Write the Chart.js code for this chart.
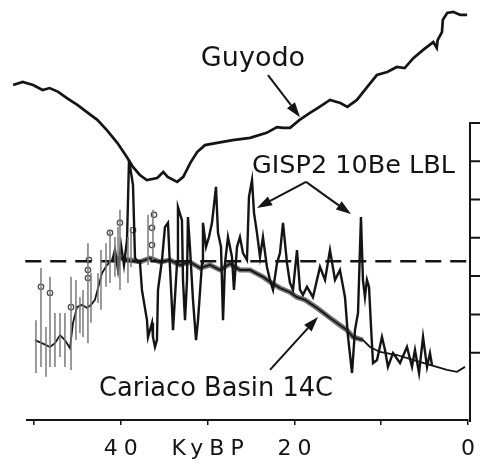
<!DOCTYPE html>
<html>
<head>
<meta charset="utf-8">
<script src="https://cdn.jsdelivr.net/npm/chart.js@4.4.0/dist/chart.umd.min.js"></script>
<style>
  body { margin: 0; background: #fff; }
</style>
</head>
<body>
<canvas id="chart" width="481" height="466"></canvas>
<script>
// ages in kyr BP, values in units of the right-hand axis ticks
const guyodoAge = [52.4, 51.3, 50.1, 49.0, 48.2, 47.2, 46.2, 45.0, 43.9, 42.7, 41.6, 40.4, 39.3, 38.6, 37.8, 37.0, 35.8, 35.1, 34.6, 33.5,
  32.8, 32.0, 31.2, 30.3, 28.9, 27.1, 25.1, 23.2, 22.0, 21.3, 20.5, 19.4, 18.2, 17.1, 15.9, 14.7, 13.9, 12.8, 11.6, 10.5,
  9.3, 8.2, 7.3, 6.3, 5.2, 4.0, 3.6, 3.5, 3.0, 2.9, 2.4, 1.7, 0.9, 0.1];
const guyodoVal = [7.99, 8.07, 7.99, 7.86, 7.91, 7.81, 7.65, 7.47, 7.28, 7.08, 6.81, 6.48, 6.11, 5.85, 5.64, 5.51, 5.56, 5.72, 5.59, 5.46,
  5.59, 5.95, 6.24, 6.42, 6.48, 6.55, 6.61, 6.74, 6.89, 6.87, 6.87, 7.08, 7.26, 7.42, 7.60, 7.52, 7.42, 7.60, 7.94, 8.25,
  8.33, 8.46, 8.43, 8.69, 8.90, 9.11, 8.96, 9.16, 9.37, 9.69, 9.87, 9.90, 9.82, 9.82];

const beAge = [41.01, 40.67, 40.32, 39.97, 39.63, 39.28, 39.05, 38.59, 38.36,
  38.01, 37.79, 37.56, 36.98, 36.86, 36.40, 36.29, 36.06, 35.83, 35.71,
  35.25, 34.91, 34.56, 34.33, 34.10, 33.98, 33.52, 33.41, 32.95, 32.83,
  32.60, 32.37, 32.26, 32.03, 31.68, 31.33, 31.10, 30.64, 30.53, 30.18,
  29.84, 29.49, 29.03, 28.80, 28.45, 28.22, 27.99, 27.65, 27.19, 26.96,
  26.61, 26.27, 25.92, 25.46, 25.23, 24.88, 24.65, 24.31, 23.96, 23.62, 23.16, 22.81, 22.46,
  22.00, 21.66, 21.31, 20.85, 20.51, 20.16, 19.70, 19.35, 19.01, 18.55,
  17.86, 17.05, 16.47, 15.90, 15.32, 14.75, 14.17, 13.82, 13.36, 13.02,
  12.67, 12.33, 12.10, 11.87, 11.64, 11.40, 11.17, 10.94, 10.48, 9.91,
  9.56, 9.22, 8.64, 7.83, 7.03, 6.45, 6.11, 5.64, 5.18, 4.72, 4.38, 4.15];
const beVal = [3.37, 3.68, 3.16, 3.81, 3.29, 3.94, 6.03, 5.38, 3.47,
  3.37, 3.37, 2.64, 1.85, 1.41, 1.78, 1.41, 1.15, 1.33, 2.64,
  3.42, 4.28, 4.39, 3.24, 2.19, 1.59, 3.34, 4.80, 4.46, 2.90,
  1.85, 2.90, 4.54, 3.76, 2.38, 1.33, 1.85, 3.34, 4.39, 3.76,
  4.02, 4.39, 5.33, 4.13, 3.76, 1.85, 3.34, 4.02, 3.50, 2.64,
  3.76, 4.02, 3.60, 3.42, 5.07, 5.51, 4.65, 4.13, 3.50, 4.02, 3.24, 2.90, 2.64,
  3.34, 3.60, 4.39, 3.34, 2.82, 2.64, 3.68, 2.64, 2.51, 2.72,
  2.45, 3.24, 2.90, 3.68, 2.90, 3.16, 2.45, 1.41, 0.47, 1.59,
  2.04, 4.54, 2.90, 2.45, 2.90, 2.72, 1.67, 0.73, 0.81, 1.41,
  1.07, 0.63, 0.99, 0.73, 1.15, 0.63, 1.07, 0.47, 1.41, 0.63, 0.99, 0.68];

const cariacoAge = [49.88, 49.08, 48.15, 47.58, 47.00, 46.43, 45.85, 45.50, 45.04, 44.47,
  43.89, 43.43, 42.97, 42.62, 42.16, 41.59, 41.01, 40.09, 38.94, 37.79,
  36.63, 35.48, 34.33, 33.18, 32.03, 30.87, 29.72, 28.57, 27.42, 26.27,
  25.11, 23.62, 22.81, 21.66, 20.51, 19.70, 18.78, 17.40, 16.47, 15.90,
  14.75, 13.94, 13.25, 12.10, 11.29, 10.14, 8.18, 6.34, 4.38, 2.42, 1.27, 0.35];
const cariacoVal = [1.33, 1.25, 1.15, 1.25, 1.46, 1.33, 1.12, 1.78, 2.19, 2.25,
  2.17, 2.25, 2.38, 2.69, 3.08, 3.29, 3.42, 3.47, 3.42, 3.37,
  3.47, 3.37, 3.42, 3.29, 3.37, 3.21, 3.29, 3.16, 3.32, 3.16,
  3.16, 2.98, 2.85, 2.69, 2.58, 2.45, 2.38, 2.17, 2.01, 1.91,
  1.72, 1.59, 1.41, 1.33, 1.15, 1.02, 0.94, 0.81, 0.68, 0.55, 0.50, 0.63];

const errAge = [49.77, 49.19, 48.61, 48.15, 47.58, 47.00, 46.43, 45.73, 45.16, 44.70, 44.35, 43.78,
  43.43, 42.62, 42.28, 41.70, 41.24, 40.67, 40.32, 40.09, 39.17, 38.82, 36.86, 36.29];
const errHigh = [1.85, 3.21, 1.67, 2.98, 2.04, 2.04, 2.04, 2.98, 2.90, 2.45, 2.64, 3.86,
  3.08, 3.08, 3.68, 3.86, 4.20, 4.02, 4.28, 4.73, 4.02, 4.28, 4.60, 4.73];
const errLow = [0.47, 0.63, 0.37, 0.63, 0.63, 0.89, 0.63, 0.55, 1.33, 1.51, 1.41, 1.25,
  1.78, 2.30, 2.12, 2.72, 2.82, 2.98, 3.08, 2.64, 2.82, 3.24, 3.29, 3.42];

const dotAge = [49.19, 48.15, 45.73, 43.78, 43.78, 43.66, 41.24, 40.09, 38.59, 36.40, 36.17, 36.40];
const dotVal = [2.72, 2.56, 2.19, 3.16, 2.95, 3.42, 4.13, 4.39, 4.20, 4.26, 4.60, 3.81];

const refLevel = 3.39;
const refSpan = [51.0, 0];
const bandRange = [12, 41.5];

const xTicks = [0, 10, 20, 30, 40, 50];
const xTickLabels = ['0', '', '20', 'KyBP', '40', ''];
const rightTicks = [1, 2, 3, 4, 5, 6];
const rightTop = 7;

// text and arrows, placed in data coordinates
const notes = [
  { text: 'Guyodo', x: 24.77, y: 8.49, size: 27 },
  { text: 'GISP2 10Be LBL', x: 13.19, y: 5.69, size: 25.5 },
  { text: 'Cariaco Basin 14C', x: 29.03, y: -0.13, size: 25.7 }
];
const arrows = [
  { from: [23.04, 8.25], to: [19.35, 7.15] },
  { from: [18.66, 5.46], to: [24.31, 4.78] },
  { from: [18.66, 5.46], to: [13.48, 4.62] },
  { from: [22.81, 0.55], to: [17.28, 1.93] }
];

function pts(xs, ys) {
  return xs.map((x, i) => ({ x: x, y: ys[i] }));
}

const errPts = [];
errAge.forEach((a, i) => {
  errPts.push({ x: a, y: errLow[i] }, { x: a, y: errHigh[i] }, { x: a, y: null });
});

// scatter envelope behind the Cariaco curve
const bandPts = pts(cariacoAge, cariacoVal).filter(p => p.x >= bandRange[0] && p.x <= bandRange[1]);

const INK = '#141414';

const spacing = {
  id: 'spacing',
  beforeDraw(chart) {
    chart.ctx.letterSpacing = '6px';
  }
};

const extras = {
  id: 'extras',
  afterDraw(chart) {
    const ctx = chart.ctx;
    const xs = chart.scales.x;
    const ys = chart.scales.y;
    ctx.save();
    ctx.letterSpacing = '0px';
    ctx.strokeStyle = INK;
    ctx.fillStyle = INK;
    ctx.lineCap = 'butt';

    // right-hand axis
    const ax = xs.getPixelForValue(0) + 2;
    ctx.lineWidth = 2;
    ctx.beginPath();
    ctx.moveTo(ax + 10, ys.getPixelForValue(rightTop));
    ctx.lineTo(ax, ys.getPixelForValue(rightTop));
    ctx.lineTo(ax, chart.chartArea.bottom + 2);
    rightTicks.forEach(v => {
      const y = ys.getPixelForValue(v);
      ctx.moveTo(ax, y);
      ctx.lineTo(ax + 10, y);
    });
    ctx.stroke();

    // labels
    ctx.textAlign = 'center';
    ctx.textBaseline = 'alphabetic';
    notes.forEach(n => {
      ctx.font = n.size + 'px "DejaVu Sans"';
      ctx.fillText(n.text, xs.getPixelForValue(n.x), ys.getPixelForValue(n.y));
    });

    // arrows
    ctx.lineWidth = 2;
    arrows.forEach(a => {
      const x1 = xs.getPixelForValue(a.from[0]), y1 = ys.getPixelForValue(a.from[1]);
      const x2 = xs.getPixelForValue(a.to[0]), y2 = ys.getPixelForValue(a.to[1]);
      const ang = Math.atan2(y2 - y1, x2 - x1);
      const len = 15, half = 5;
      const bx = x2 - len * Math.cos(ang), by = y2 - len * Math.sin(ang);
      ctx.beginPath();
      ctx.moveTo(x1, y1);
      ctx.lineTo(bx, by);
      ctx.stroke();
      ctx.beginPath();
      ctx.moveTo(x2, y2);
      ctx.lineTo(bx + half * Math.sin(ang), by - half * Math.cos(ang));
      ctx.lineTo(bx - half * Math.sin(ang), by + half * Math.cos(ang));
      ctx.closePath();
      ctx.fill();
    });
    ctx.restore();
  }
};

new Chart(document.getElementById('chart'), {
  type: 'scatter',
  data: {
    datasets: [
      {
        data: errPts, showLine: true, spanGaps: false,
        borderColor: '#7a7a7a', borderWidth: 1.5, pointRadius: 0, clip: false
      },
      {
        data: bandPts, showLine: true,
        borderColor: 'rgba(20,20,20,0.6)', borderWidth: 5, pointRadius: 0, clip: false
      },
      {
        data: pts(refSpan, [refLevel, refLevel]), showLine: true,
        borderColor: INK, borderWidth: 2.5, borderDash: [16, 9], pointRadius: 0, clip: false
      },
      {
        data: pts(cariacoAge, cariacoVal), showLine: true,
        borderColor: INK, borderWidth: 1.8, pointRadius: 0, tension: 0, clip: false
      },
      {
        data: pts(beAge, beVal), showLine: true,
        borderColor: INK, borderWidth: 2.4, pointRadius: 0, tension: 0, clip: false
      },
      {
        data: pts(guyodoAge, guyodoVal), showLine: true,
        borderColor: INK, borderWidth: 2.7, pointRadius: 0, tension: 0, clip: false
      },
      {
        data: pts(dotAge, dotVal),
        pointRadius: 2.7, pointBackgroundColor: '#fff', pointBorderColor: '#444', pointBorderWidth: 1.2, clip: false
      }
    ]
  },
  options: {
    responsive: false,
    animation: false,
    devicePixelRatio: 1,
    layout: { padding: { top: 10, left: 27, right: 13, bottom: 0 } },
    plugins: { legend: { display: false }, tooltip: { enabled: false } },
    scales: {
      x: {
        type: 'linear', reverse: true, min: 0, max: 50.8,
        afterBuildTicks: scale => { scale.ticks = xTicks.map(v => ({ value: v })); },
        afterFit: scale => { scale.height = 46; },
        border: { display: true, color: INK, width: 2 },
        grid: { drawOnChartArea: false, color: INK, lineWidth: 1.5, tickLength: 5 },
        ticks: {
          padding: 11,
          labelOffset: 3,
          color: INK,
          font: { family: 'DejaVu Sans', size: 22 },
          maxRotation: 0,
          autoSkip: false,
          callback: value => xTickLabels[xTicks.indexOf(value)]
        }
      },
      y: { type: 'linear', min: -0.757, max: 9.948, display: false }
    }
  },
  plugins: [spacing, extras]
});
</script>
</body>
</html>
